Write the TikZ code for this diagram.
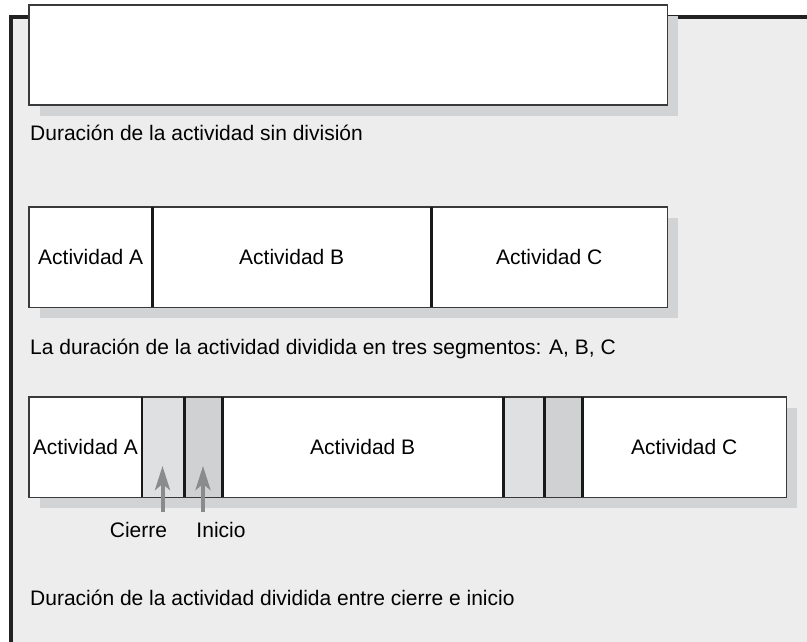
\documentclass[tikz,border=0pt]{standalone}
\usepackage{fontspec}
\setmainfont{Liberation Sans}
\usetikzlibrary{arrows.meta}
\definecolor{panelGray}{HTML}{EDEDED}
\definecolor{shadowGray}{HTML}{D2D3D5}
\definecolor{closeGray}{HTML}{DFE0E2}
\definecolor{startGray}{HTML}{D0D1D3}
\definecolor{arrowGray}{HTML}{8A8B8D}
\definecolor{edgeGray}{HTML}{3A3A3A}
\definecolor{panelEdge}{HTML}{222222}

\begin{document}
\begin{tikzpicture}[x=1pt, y=-1pt, font=\fontsize{21}{25}\selectfont,
  actseg/.style={inner sep=0pt, minimum height=100pt, anchor=north west},
  outline/.style={edgeGray, line width=1.8pt},
  divider/.style={black!90, line width=2.8pt},
  caption/.style={inner sep=0pt, anchor=base west},
  pointer/.style={arrowGray, line width=4pt, -{Stealth[length=24pt, width=15pt, inset=6pt]}}]
  \useasboundingbox (0,0) rectangle (807,642);
  % Shaded panel with its top and left edge
  \fill[panelGray] (11,17) rectangle (807,642);
  \draw[panelEdge, line width=3.5pt] (11,642) -- (11,17) -- (807,17);
  % cell: name, left x, width, top y, fill, text
  \newcommand{\actcell}[6]{\node[actseg, fill=#5, minimum width=#3pt] (#1) at (#2,#4) {#6};}
  \newcommand{\dropshadow}[4]{\fill[shadowGray] (#1+11,#2+11) rectangle (#3+11,#4+11);}
  % Row 1: no division
  \dropshadow{29}{5}{667}{105}
  \actcell{rowOne}{29}{638}{5}{white}{}
  \draw[outline] (rowOne.north west) rectangle (rowOne.south east);
  \node[caption] (capOne) at (30,140) {Duración de la actividad sin división};
  % Row 2: A, B, C
  \dropshadow{29}{207}{667}{307}
  \actcell{twoA}{29}{123}{207}{white}{Actividad A}
  \actcell{twoB}{152}{279}{207}{white}{Actividad B}
  \actcell{twoC}{431}{236}{207}{white}{Actividad C}
  \draw[outline] (twoA.north west) rectangle (twoC.south east);
  \draw[divider] (twoA.north east) -- (twoA.south east);
  \draw[divider] (twoB.north east) -- (twoB.south east);
  \node[caption] (capTwo) at (30,354) {La duración de la actividad dividida en tres segmentos: A, B, C};
  % Row 3: split by close and start
  \dropshadow{29}{397}{786}{497}
  \actcell{threeA}{29}{112.5}{397}{white}{Actividad A}
  \actcell{closeOne}{141.5}{42.5}{397}{closeGray}{}
  \actcell{startOne}{184}{38}{397}{startGray}{}
  \actcell{threeB}{222}{281}{397}{white}{Actividad B}
  \actcell{closeTwo}{503}{41}{397}{closeGray}{}
  \actcell{startTwo}{544}{38}{397}{startGray}{}
  \actcell{threeC}{582}{204}{397}{white}{Actividad C}
  \draw[outline] (threeA.north west) rectangle (threeC.south east);
  \foreach \seg in {threeA, closeOne, startOne, threeB, closeTwo, startTwo}
    \draw[divider] (\seg.north east) -- (\seg.south east);
  % Pointers
  \coordinate (closeTail) at (162.5,512);
  \coordinate (startTail) at (203,512);
  \draw[pointer] (closeTail) -- (closeTail |- 0,466);
  \draw[pointer] (startTail) -- (startTail |- 0,466);
  \node[inner sep=0pt, anchor=base] (closeLbl) at (138.5,537) {Cierre};
  \node[inner sep=0pt, anchor=base] (startLbl) at (221,537) {Inicio};
  \node[caption] (capThree) at (30,605) {Duración de la actividad dividida entre cierre e inicio};
\end{tikzpicture}
\end{document}
